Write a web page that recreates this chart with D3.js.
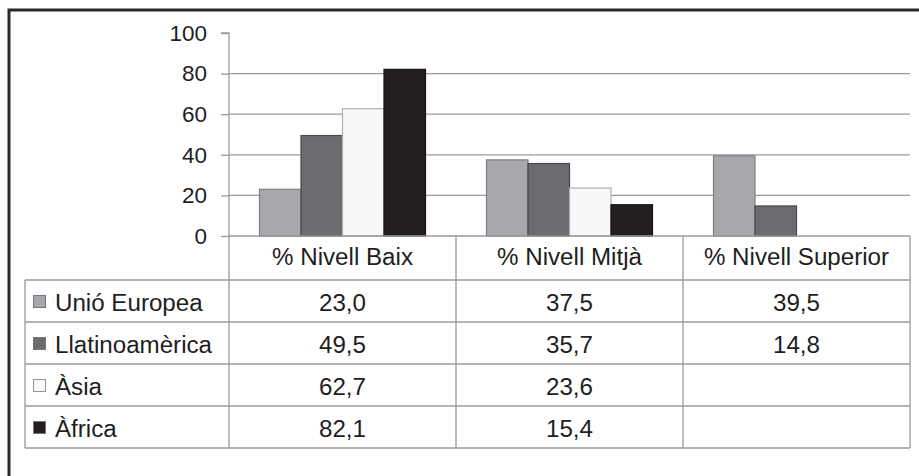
<!DOCTYPE html>
<html><head><meta charset="utf-8">
<script src="https://cdn.jsdelivr.net/npm/d3@7"></script>
<style>html,body{margin:0;padding:0;background:#fff;}svg{display:block;font-family:"Liberation Sans",Arial,sans-serif;}</style>
</head><body><svg id="c" width="919" height="476"></svg>
<script>
const categories = ["% Nivell Baix", "% Nivell Mitjà", "% Nivell Superior"];
const seriesNames = ["Unió Europea", "Llatinoamèrica", "Àsia", "Àfrica"];
const unioEuropea = [23.0, 37.5, 39.5];
const llatinoamerica = [49.5, 35.7, 14.8];
const asia = [62.7, 23.6, null];
const africa = [82.1, 15.4, null];
const yTicks = [0, 20, 40, 60, 80, 100];
const seriesValues = [unioEuropea, llatinoamerica, asia, africa];
const fills = ["#a7a8ab", "#6b6c70", "#f8f8f8", "#231f20"];
const strokes = ["#7d7e80", "#48494c", "#b0b0b0", "#151213"];

const svg = d3.select("#c");
const fmt = v => v == null ? "" : v.toFixed(1).replace(".", ",");

// frame
svg.append("path").attr("d", "M9,476 V10 H919").attr("fill", "none").attr("stroke", "#2a2a2a").attr("stroke-width", 3);

const x0 = d3.scaleBand().domain(categories).range([229, 910]).paddingInner(0).paddingOuter(0);
const x1 = d3.scaleBand().domain(seriesNames).range([30.5, x0.bandwidth() - 30.5]).padding(0);
const y = d3.scaleLinear().domain([0, 100]).range([236, 33]);
const rowY = d3.scaleBand().domain(seriesNames).range([280, 448]);

const gridCol = "#9a9a9a";
svg.append("g").selectAll("line").data(yTicks.filter(t => t > 0 && t < 100)).join("line")
  .attr("x1", 229).attr("x2", 910).attr("y1", d => y(d)).attr("y2", d => y(d))
  .attr("stroke", gridCol).attr("stroke-width", 1.3);

const yAxis = d3.axisLeft(y).tickValues(yTicks).tickSize(8).tickPadding(14).tickFormat(d3.format("d"));
const ga = svg.append("g").attr("transform", "translate(229,0)").call(yAxis);
ga.select(".domain").attr("stroke", gridCol).attr("stroke-width", 1.3).attr("d", `M-8,${y(100)}H0V${y(0)}`);
ga.selectAll(".tick line").attr("stroke", gridCol).attr("stroke-width", 1.3);
ga.selectAll(".tick text").attr("font-size", 22.5).attr("fill", "#1e1e1e").attr("font-family", "'Liberation Sans',Arial,sans-serif");

const gBars = svg.append("g");
seriesNames.forEach((s, si) => {
  gBars.append("g").selectAll("rect")
    .data(categories.map((c, ci) => ({c, v: seriesValues[si][ci]})).filter(d => d.v != null))
    .join("rect")
    .attr("x", d => x0(d.c) + x1(s))
    .attr("width", x1.bandwidth())
    .attr("y", d => y(d.v))
    .attr("height", d => y(0) - y(d.v))
    .attr("fill", fills[si]).attr("stroke", strokes[si]).attr("stroke-width", 1.2);
});

const tl = svg.append("g").attr("stroke", gridCol).attr("stroke-width", 1.3);
tl.append("line").attr("x1", 229).attr("x2", 910).attr("y1", y(0)).attr("y2", y(0));
const rowLines = [280].concat(seriesNames.map(s => rowY(s) + rowY.bandwidth()));
rowLines.forEach(yy => tl.append("line").attr("x1", 25).attr("x2", 910).attr("y1", yy).attr("y2", yy));
categories.forEach(c => tl.append("line").attr("x1", x0(c)).attr("x2", x0(c)).attr("y1", y(0)).attr("y2", 448));
tl.append("line").attr("x1", 910).attr("x2", 910).attr("y1", y(0)).attr("y2", 448);
tl.append("line").attr("x1", 25).attr("x2", 25).attr("y1", 280).attr("y2", 448);

function txt(xp, yp, s, anchor) {
  svg.append("text").attr("transform", `translate(${xp},${yp}) scale(1.05,1)`)
    .attr("text-anchor", anchor).attr("font-size", 23).attr("fill", "#1e1e1e").text(s);
}
categories.forEach(c => txt(x0(c) + x0.bandwidth() / 2, 265, c, "middle"));
seriesNames.forEach((s, si) => {
  const ry = rowY(s) + rowY.bandwidth() / 2 + 10;
  svg.append("rect").attr("x", 33.5).attr("y", ry - 15.5).attr("width", 12).attr("height", 12)
    .attr("fill", fills[si]).attr("stroke", si === 2 ? "#999" : "#777").attr("stroke-width", 1);
  txt(55, ry, s, "start");
  categories.forEach((c, ci) => txt(x0(c) + x0.bandwidth() / 2, ry, fmt(seriesValues[si][ci]), "middle"));
});
</script></body></html>
